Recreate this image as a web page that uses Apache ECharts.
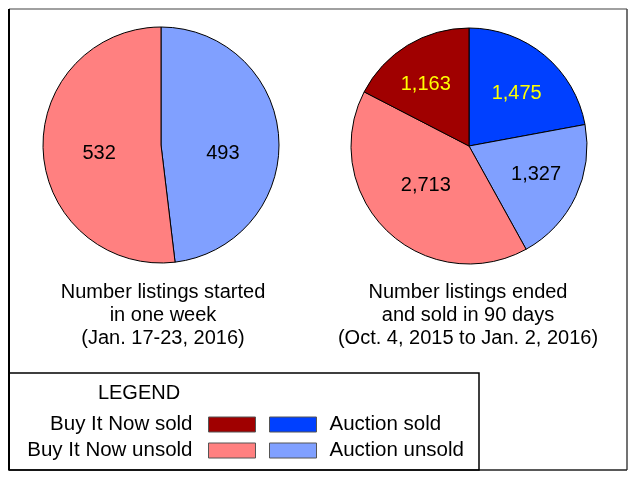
<!DOCTYPE html>
<html>
<head>
<meta charset="utf-8">
<script src="https://cdn.jsdelivr.net/npm/echarts@6/dist/echarts.min.js"></script>
<style>
html, body { margin: 0; padding: 0; background: #fff; }
#main { width: 640px; height: 486px; }
</style>
</head>
<body>
<div id="main"></div>
<script>
// 左图：一周内开始的listing
var weekNames = ['Auction unsold', 'Buy It Now unsold'];
var weekValues = [493, 532];
// 右图：90天内结束的listing
var endedNames = ['Auction sold', 'Auction unsold', 'Buy It Now unsold', 'Buy It Now sold'];
var endedValues = [1475, 1327, 2713, 1163];
// 图例
var legendLeft = ['Buy It Now sold', 'Buy It Now unsold'];
var legendRight = ['Auction sold', 'Auction unsold'];
var captionLeft = ['Number listings started', 'in one week', '(Jan. 17-23, 2016)'];
var captionRight = ['Number listings ended', 'and sold in 90 days', '(Oct. 4, 2015 to Jan. 2, 2016)'];

var FONT = '"Liberation Sans", Arial, sans-serif';
var colors = {
    'Buy It Now sold': '#a00000',
    'Buy It Now unsold': '#ff8080',
    'Auction sold': '#0040ff',
    'Auction unsold': '#80a0ff'
};
var labelColors = {
    'Buy It Now sold': '#ffff00',
    'Auction sold': '#ffff00'
};
// 标签微调（像素）
var labelOffsets = {
    week: [[0, 12], [0, 5]],
    ended: [[8, -5], [11, 2], [0, -5], [-11, -9]]
};

function fmt(v) {
    return v.toLocaleString('en-US');
}

function buildData(names, values, offsets) {
    var data = [];
    for (var i = 0; i < names.length; i++) {
        data.push({
            name: names[i],
            value: values[i],
            itemStyle: { color: colors[names[i]] },
            label: {
                color: labelColors[names[i]] || '#000',
                offset: offsets[i]
            }
        });
    }
    return data;
}

function pieSeries(name, center, data) {
    return {
        name: name,
        type: 'pie',
        center: center,
        radius: 118,
        startAngle: 90,
        clockwise: true,
        silent: true,
        data: data,
        label: {
            show: true,
            position: 'inside',
            fontFamily: FONT,
            fontSize: 20,
            formatter: function (p) { return fmt(p.value); }
        },
        labelLine: { show: false },
        itemStyle: { borderColor: '#000', borderWidth: 1 }
    };
}

function legendBox(names, side) {
    var left = side === 'left';
    var lg = {
        data: names,
        orient: 'vertical',
        align: left ? 'right' : 'left',
        top: 414,
        padding: 0,
        itemWidth: 47,
        itemHeight: 15,
        itemGap: 5,
        selectedMode: false,
        icon: 'rect',
        itemStyle: { borderColor: '#555', borderWidth: 1 },
        textStyle: {
            fontFamily: FONT, fontSize: 20.5, color: '#000',
            padding: left ? [0, 11, 0, 0] : [0, 0, 0, 8]
        }
    };
    if (left) {
        lg.right = 640 - 256;
    } else {
        lg.left = 269;
    }
    return lg;
}

var chart = echarts.init(document.getElementById('main'));
chart.setOption({
    animation: false,
    backgroundColor: '#fff',
    legend: [legendBox(legendLeft, 'left'), legendBox(legendRight, 'right')],
    graphic: [
        // 外框
        { type: 'line', shape: { x1: 9, y1: 9, x2: 627, y2: 9 }, style: { stroke: '#a0a0a0', lineWidth: 2 } },
        { type: 'line', shape: { x1: 9, y1: 9, x2: 9, y2: 470 }, style: { stroke: '#000', lineWidth: 2 } },
        { type: 'line', shape: { x1: 627, y1: 9, x2: 627, y2: 470 }, style: { stroke: '#444', lineWidth: 1.5 } },
        { type: 'line', shape: { x1: 9, y1: 470, x2: 627, y2: 470 }, style: { stroke: '#222', lineWidth: 1.5 } },
        // 图例框
        { type: 'rect', shape: { x: 9, y: 373, width: 470, height: 97 }, style: { fill: 'none', stroke: '#000', lineWidth: 1.5 } },
        { type: 'text', x: 139, y: 393, style: { text: 'LEGEND', fontFamily: FONT, fontSize: 20, fill: '#000', align: 'center', verticalAlign: 'middle' } },
        // 标题文字
        { type: 'text', x: 163, y: 281, style: { text: captionLeft.join('\n'), fontFamily: FONT, fontSize: 20, lineHeight: 23, fill: '#000', align: 'center', verticalAlign: 'top' } },
        { type: 'text', x: 468, y: 281, style: { text: captionRight.join('\n'), fontFamily: FONT, fontSize: 20, lineHeight: 23, fill: '#000', align: 'center', verticalAlign: 'top' } }
    ],
    series: [
        pieSeries('Number listings started', [161, 145], buildData(weekNames, weekValues, labelOffsets.week)),
        pieSeries('Number listings ended', [469, 146], buildData(endedNames, endedValues, labelOffsets.ended))
    ]
});
</script>
</body>
</html>
